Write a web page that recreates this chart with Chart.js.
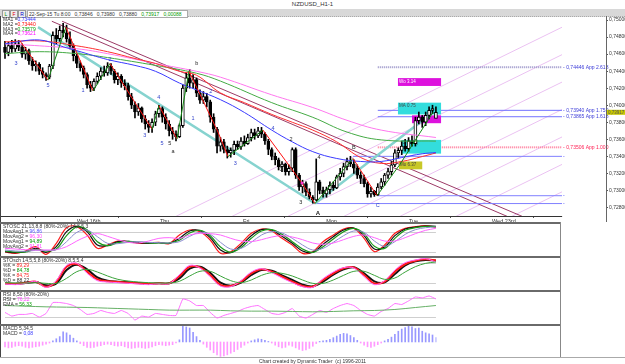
<!doctype html>
<html lang="en">
<head>
<meta charset="utf-8">
<title>NZDUSD_H1-1</title>
<style>
  * { margin: 0; padding: 0; }
  body { width: 625px; height: 364px; position: relative; overflow: hidden; background: #fff;
         font-family: "Liberation Sans", Arial, sans-serif; color: #333; }
  canvas, .abs { position: absolute; }
  .txt { position: absolute; font-size: 5px; line-height: 5px; white-space: nowrap; color: #333; }
  .line { position: absolute; }
</style>
</head>
<body>
<div class="txt" style="left:0;top:2px;width:625px;text-align:center;font-size:6px;">NZDUSD_H1-1</div>
<div class="line" style="left:0;top:9px;width:625px;height:7px;background:#d8d8d8;border-bottom:1px dotted #aaa;"></div>
<div class="txt" style="left:2px;top:10px;width:6px;height:6px;line-height:6px;text-align:center;background:#eee;border:1px solid #999;color:#080;">L</div>
<div class="txt" style="left:10px;top:10px;width:6px;height:6px;line-height:6px;text-align:center;background:#eee;border:1px solid #999;color:#d00;">F</div>
<div class="txt" style="left:18px;top:10px;width:6px;height:6px;line-height:6px;text-align:center;background:#eee;border:1px solid #999;color:#00c;">R</div>
<div class="txt" style="left:27px;top:10px;width:158px;height:6px;line-height:6px;background:#fff;border:1px solid #aaa;padding-left:1px;">22-Sep-15 Tu 8:00&nbsp;&nbsp; 0,73846&nbsp;&nbsp; 0,73980&nbsp;&nbsp; 0,73880&nbsp;&nbsp; <span style="color:#090">0,73917&nbsp;&nbsp; 0,00088</span></div>

<canvas id="main" width="625" height="207" style="left:0;top:16px;"></canvas>
<canvas id="p1" width="625" height="34" style="left:0;top:223px;"></canvas>
<canvas id="p2" width="625" height="33" style="left:0;top:257px;"></canvas>
<canvas id="p3" width="625" height="33" style="left:0;top:291px;"></canvas>
<canvas id="p4" width="625" height="32" style="left:0;top:325px;"></canvas>

<div class="line" style="left:0;top:16px;width:1px;height:342px;background:#444;"></div>
<div class="line" style="left:606px;top:16px;width:1px;height:206px;background:#666;"></div>
<div class="line" style="left:0;top:222px;width:561px;height:2px;background:#6a6a6a;"></div>
<div class="line" style="left:0;top:256px;width:561px;height:2px;background:#6a6a6a;"></div>
<div class="line" style="left:0;top:290px;width:561px;height:2px;background:#6a6a6a;"></div>
<div class="line" style="left:0;top:324px;width:561px;height:2px;background:#6a6a6a;"></div>
<div class="line" style="left:560px;top:222px;width:1px;height:136px;background:#888;"></div>
<div class="line" style="left:0;top:357px;width:625px;height:1px;background:#aaa;"></div>

<div class="txt" style="left:3px;top:17px;line-height:4.8px;">MA1 =<span style="color:#3333ff">0,73444</span><br>MA2 =<span style="color:#ff0000">0,73440</span><br>MA3 =<span style="color:#009900">0,73579</span><br>MA4 =<span style="color:#ff00ff">0,73621</span></div>
<div class="txt" style="left:3px;top:224px;">STOSC 21,13,8,8 (80%-20%) 14,8,5,3<br>MovAvg1 = <span style="color:#5555ff">96,86</span><br>MovAvg2 = <span style="color:#ff44ff">96,30</span><br>MovAvg1 = <span style="color:#009900">94,89</span><br>MovAvg2 = <span style="color:#ff44ff">91,81</span></div>
<div class="txt" style="left:3px;top:258px;">STOsch 14,5,5,8 (80%-20%) 8,5,5,4<br>%K = <span style="color:#ff2222">89,29</span><br>%D = <span style="color:#009900">84,78</span><br>%K = <span style="color:#ff2222">84,75</span><br>%D = <span style="color:#333">88,22</span></div>
<div class="txt" style="left:3px;top:292px;">RSI 8,50 (80%-20%)<br>RSI = <span style="color:#ff44ff">76,22</span><br>EMA = <span style="color:#009900">56,33</span></div>
<div class="txt" style="left:3px;top:326px;">MACD 5,34,5<br>MACD = <span style="color:#3333ff">0,08</span></div>
<div class="txt" style="left:0;top:359px;width:625px;text-align:center;">Chart created by Dynamic Trader&nbsp; (c) 1996-2011</div>

<script src="https://cdn.jsdelivr.net/npm/chart.js"></script>
<script>
// candles, one per hour
const open = [0.7468,0.7462,0.7470,0.7466,0.7472,0.7468,0.7460,0.7464,0.7452,0.7446,0.7448,0.7440,0.7436,0.7433,0.7446,0.7482,0.7478,0.7488,0.7485,0.7478,
  0.7470,0.7458,0.7449,0.7444,0.7436,0.7424,0.7420,0.7428,0.7434,0.7440,0.7438,0.7446,0.7440,0.7430,0.7434,0.7426,0.7423,0.7410,0.7400,0.7392,
  0.7397,0.7384,0.7378,0.7374,0.7380,0.7390,0.7396,0.7386,0.7378,0.7370,0.7366,0.7363,0.7376,0.7420,0.7432,0.7426,0.7430,0.7414,0.7406,0.7410,
  0.7404,0.7386,0.7372,0.7352,0.7357,0.7348,0.7344,0.7347,0.7354,0.7351,0.7358,0.7355,0.7362,0.7368,0.7364,0.7370,0.7366,0.7358,0.7348,0.7340,
  0.7336,0.7328,0.7331,0.7322,0.7326,0.7348,0.7318,0.7304,0.7308,0.7298,0.7292,0.7289,0.7310,0.7300,0.7296,0.7301,0.7306,0.7303,0.7316,0.7320,
  0.7328,0.7334,0.7331,0.7326,0.7318,0.7314,0.7308,0.7296,0.7299,0.7295,0.7304,0.7310,0.7318,0.7322,0.7330,0.7344,0.7347,0.7352,0.7349,0.7358,
  0.7355,0.7382,0.7386,0.7380,0.7388,0.7394,0.73846];
const high = [0.7475,0.7474,0.7476,0.7477,0.7476,0.7472,0.7468,0.7466,0.7456,0.7452,0.7450,0.7444,0.7438,0.7448,0.7486,0.7490,0.7493,0.7496,0.7494,0.7486,
  0.7472,0.7460,0.7452,0.7446,0.7438,0.7428,0.7431,0.7438,0.7444,0.7446,0.7450,0.7449,0.7442,0.7438,0.7436,0.7430,0.7426,0.7414,0.7404,0.7402,
  0.7398,0.7388,0.7382,0.7384,0.7393,0.7400,0.7398,0.7390,0.7382,0.7374,0.7370,0.7378,0.7424,0.7438,0.7442,0.7436,0.7432,0.7418,0.7416,0.7414,
  0.7406,0.7390,0.7374,0.7362,0.7360,0.7352,0.7350,0.7358,0.7358,0.7362,0.7364,0.7366,0.7372,0.7372,0.7374,0.7374,0.7368,0.7360,0.7350,0.7344,
  0.7338,0.7334,0.7332,0.7330,0.7350,0.7350,0.7320,0.7312,0.7310,0.7302,0.7294,0.7337,0.7312,0.7304,0.7304,0.7310,0.7310,0.7318,0.7326,0.7332,
  0.7338,0.7340,0.7336,0.7330,0.7322,0.7318,0.7310,0.7304,0.7300,0.7308,0.7314,0.7320,0.7326,0.7334,0.7348,0.7350,0.7358,0.7360,0.7362,0.7364,
  0.7386,0.7392,0.7388,0.7392,0.7398,0.7400,0.73980];
const low = [0.7455,0.7458,0.7462,0.7463,0.7464,0.7456,0.7454,0.7448,0.7441,0.7440,0.7436,0.7432,0.7429,0.7431,0.7443,0.7472,0.7475,0.7480,0.7474,0.7466,
  0.7452,0.7444,0.7440,0.7432,0.7420,0.7416,0.7417,0.7425,0.7430,0.7434,0.7435,0.7436,0.7426,0.7424,0.7421,0.7418,0.7406,0.7396,0.7385,0.7388,
  0.7380,0.7372,0.7368,0.7368,0.7376,0.7386,0.7380,0.7372,0.7364,0.7360,0.7358,0.7362,0.7374,0.7416,0.7420,0.7420,0.7410,0.7402,0.7402,0.7398,
  0.7380,0.7368,0.7344,0.7346,0.7344,0.7338,0.7339,0.7342,0.7348,0.7348,0.7352,0.7354,0.7358,0.7360,0.7362,0.7362,0.7354,0.7342,0.7336,0.7330,
  0.7324,0.7322,0.7318,0.7318,0.7322,0.7314,0.7300,0.7297,0.7294,0.7290,0.7285,0.7288,0.7296,0.7292,0.7292,0.7296,0.7300,0.7302,0.7312,0.7316,
  0.7324,0.7328,0.7320,0.7314,0.7308,0.7304,0.7292,0.7292,0.7293,0.7294,0.7302,0.7306,0.7314,0.7318,0.7328,0.7338,0.7342,0.7346,0.7346,0.7352,
  0.7352,0.7378,0.7374,0.7376,0.7384,0.7390,0.73880];
const close = [0.7462,0.7470,0.7466,0.7472,0.7468,0.7460,0.7464,0.7452,0.7446,0.7448,0.7440,0.7436,0.7433,0.7446,0.7482,0.7478,0.7488,0.7485,0.7478,0.7470,
  0.7458,0.7449,0.7444,0.7436,0.7424,0.7420,0.7428,0.7434,0.7440,0.7438,0.7446,0.7440,0.7430,0.7434,0.7426,0.7423,0.7410,0.7400,0.7392,0.7397,
  0.7384,0.7378,0.7374,0.7380,0.7390,0.7396,0.7386,0.7378,0.7370,0.7366,0.7363,0.7376,0.7420,0.7432,0.7426,0.7430,0.7414,0.7406,0.7410,0.7404,
  0.7386,0.7372,0.7352,0.7357,0.7348,0.7344,0.7347,0.7354,0.7351,0.7358,0.7355,0.7362,0.7368,0.7364,0.7370,0.7366,0.7358,0.7348,0.7340,0.7336,
  0.7328,0.7331,0.7322,0.7326,0.7348,0.7318,0.7304,0.7308,0.7298,0.7292,0.7289,0.7310,0.7300,0.7296,0.7301,0.7306,0.7303,0.7316,0.7320,0.7328,
  0.7334,0.7331,0.7326,0.7318,0.7314,0.7308,0.7296,0.7299,0.7295,0.7304,0.7310,0.7318,0.7322,0.7330,0.7344,0.7347,0.7352,0.7349,0.7358,0.7355,
  0.7382,0.7386,0.7380,0.7388,0.7394,0.7396,0.73917];

// moving averages (bar index, price)
const ma1Idx = [0,10,17,21,30,38,44,51,56,63,70,78,84,90,97,104,110,116,122,126];
const ma1 = [0.7472,0.74766,0.74686,0.7464,0.74536,0.74467,0.74398,0.7426,0.7418,0.74065,0.73915,0.73708,0.7357,0.73455,0.73375,0.7334,0.7334,0.73386,0.7343,0.73444];
const ma2Idx = [0,10,21,30,38,44,51,56,63,70,78,84,90,97,104,110,116,122,126];
const ma2 = [0.74743,0.74755,0.74697,0.74628,0.74548,0.7449,0.74398,0.74352,0.74145,0.7403,0.73892,0.738,0.73708,0.7357,0.73386,0.73317,0.7334,0.73398,0.7344];
const ma34Idx = [0,10,21,30,44,56,63,78,90,100,110,126];
const ma3 = [0.74605,0.74628,0.74605,0.74559,0.74467,0.74375,0.74283,0.7403,0.73858,0.73685,0.73593,0.73579];
const ma4 = [0.7472,0.74697,0.74663,0.74605,0.7449,0.74398,0.74329,0.74122,0.73973,0.73823,0.73708,0.73621];

// axis ticks
const priceTicks = [0.728,0.730,0.732,0.734,0.736,0.738,0.740,0.742,0.744,0.746,0.748,0.750];
const dayTicks = [21.05,45.3,69.6,93.9,118.1,142.4];
const dayLabels = ['Wed 16th','Thu','Fri','Mon','Tue','Wed 23rd'];

// drawing tools, in (bar index, price)
const gannLines = [[50,0.72696,162.9,0.74916],[66.4,0.72696,162.9,0.74594],[82.7,0.72696,162.9,0.74272],[99.1,0.72696,162.9,0.7395],
  [115.5,0.72696,162.9,0.73628],[131.9,0.72696,162.9,0.73306],[148.2,0.72696,162.9,0.72984]];
const channelLines = [[13.7,0.74985,146.8,0.72696],[16.7,0.74985,151.2,0.72696]];
const tealLines = [[9.65,0.74916,90.64,0.72846],[90.64,0.72846,125.1,0.73915]];
const zigzag = [[4.39,0.74755],[12.57,0.74295],[17.8,0.74916],[25.73,0.74168],[30.7,0.7449],[42.98,0.7372],[45.03,0.73996],[50.29,0.73605],
  [53.8,0.74398],[62.28,0.73685],[65.2,0.73398],[75.44,0.73708],[86.84,0.73087],[90.64,0.72846],[101.75,0.73375],[108.77,0.72938],
  [115.5,0.73306],[125.1,0.73915]];
const appLevels = [0.74446,0.73940,0.73865,0.73506];
const appNames = ['App 2.618','App 1.750','App 1.618','App 1.000'];
const appStart = 109;
const pivotLevels = [0.73400,0.72938,0.72846];
const pivotStart = [101.75,108.77,90.64];
const boxes = [[114.9,127.5,0.74226,0.74318],[114.9,127.5,0.73892,0.7403],[119,127.5,0.73789,0.73881],[116,127.5,0.73432,0.73593],[115.2,122,0.73248,0.7334]];
const boxTexts = ['Wo 3.14','MA 0.75','','1 (1.00)','Mo 6.37'];
const waveText = ['3','5','1','2','3','4','5','5','a','b','1','2','3','4','1','2','3','4','A','B','C'];
const waveX = [3.2,12.6,22.8,30.7,40.9,45,45.9,48.2,49.1,56.1,55,60.2,67.3,78.4,80.7,83.6,86.5,91.8,91.5,102,109];
const waveP = [0.7449,0.74237,0.74168,0.74536,0.7365,0.74088,0.73547,0.73547,0.73455,0.7449,0.73846,0.74157,0.73317,0.73731,0.73248,0.73593,0.72857,0.73386,0.72731,0.73501,0.72823];
const plotEnd = 162.9;

// STOSC panel, every third bar
const oscIdx = [];
for (let i = 0; i <= 126; i += 3) oscIdx.push(i);
const stoscRed = [19,15,22,35,12,45,92,95,70,30,40,52,50,45,46,48,44,70,85,80,55,15,20,45,75,88,82,60,40,15,20,50,70,88,90,60,20,40,75,90,95,98,93];
const stoscBlack = [20,17,20,30,18,35,80,96,80,40,38,50,51,47,45,47,45,60,82,83,62,25,17,38,68,86,85,66,45,22,18,42,65,85,91,68,28,34,68,88,94,97,96];
const stoscGreen = [22,19,19,27,22,28,68,94,86,50,38,47,51,49,46,46,46,54,76,84,68,34,18,32,60,82,86,72,50,28,18,35,58,80,90,74,36,30,60,84,92,96,95];
const stoscBlue = [25,22,21,24,24,26,50,78,85,65,45,44,48,50,48,47,46,50,66,78,72,48,28,30,48,70,80,76,60,40,25,30,48,68,82,78,52,36,50,72,86,92,94];
const stoscPink = [30,28,26,25,25,26,35,52,66,74,66,56,48,46,52,60,62,60,70,75,74,70,60,52,50,56,64,68,64,56,46,42,46,56,66,70,62,52,52,62,74,84,90];
// STOsch panel
const stochRed = [20,18,22,25,10,25,70,78,55,32,26,24,22,20,18,20,20,42,70,68,45,15,12,25,50,62,55,40,25,12,10,30,50,65,68,45,20,25,55,78,88,92,89];
const stochBlack = [20,19,21,24,14,20,60,76,62,38,28,25,23,21,19,20,20,35,64,70,52,22,13,22,45,60,58,44,30,16,11,25,46,62,68,50,26,23,48,74,86,90,88];
const stochGreen = [22,21,21,22,20,20,35,55,62,54,42,32,27,24,22,21,21,26,42,56,56,42,28,22,30,44,52,50,42,30,20,20,30,44,56,56,44,32,36,54,70,80,84];
const stochPink = [18,16,20,26,8,28,74,80,50,28,24,22,20,18,16,19,19,46,74,66,40,12,10,28,54,64,52,36,22,10,8,34,54,67,66,40,16,28,60,82,90,94,84];
// RSI panel
const rsiIdx = [];
for (let i = 0; i <= 126; i += 2) rsiIdx.push(i);
const rsi = [35,24,29,29,32,21,32,65,65,62,56,44,29,32,41,35,32,41,32,12,24,21,32,29,26,26,76,70,56,56,35,18,26,32,38,47,53,56,44,32,
  29,35,47,24,18,29,41,35,47,56,62,56,41,29,24,38,47,62,59,70,82,79,85,76];
const emaIdx = [0,6,12,18,24,30,36,42,48,54,60,66,72,78,84,90,96,102,108,114,120,126];
const rsiEma = [56,54,52,51,50,48,46,44,42,42,42,40,39,39,38,37,38,40,41,44,50,56];
const refLevels = [80,20];
// MACD histogram, one per bar
const macd = [-0.09,-0.11,-0.10,-0.08,-0.07,-0.08,-0.10,-0.11,-0.10,-0.09,-0.08,-0.06,-0.04,-0.02,0.02,0.06,0.10,0.19,0.17,0.13,
  0.07,0.02,-0.03,-0.07,-0.10,-0.11,-0.10,-0.08,-0.07,-0.05,-0.04,-0.05,-0.07,-0.08,-0.07,-0.09,-0.11,-0.12,-0.11,-0.10,
  -0.11,-0.12,-0.11,-0.09,-0.07,-0.05,-0.06,-0.07,-0.06,-0.05,-0.02,0.04,0.30,0.28,0.26,0.18,0.10,0.03,-0.04,-0.10,
  -0.15,-0.20,-0.24,-0.27,-0.26,-0.24,-0.21,-0.18,-0.14,-0.10,-0.06,-0.02,0.02,0.04,0.06,0.05,0.03,0.01,-0.02,-0.06,
  -0.09,-0.11,-0.10,-0.06,-0.08,-0.11,-0.14,-0.16,-0.15,-0.12,-0.08,-0.03,0.01,0.02,0.03,0.05,0.08,0.11,0.14,0.16,
  0.15,0.12,0.08,0.03,-0.02,-0.06,-0.09,-0.10,-0.08,-0.05,-0.02,0.02,0.05,0.09,0.14,0.20,0.24,0.27,0.30,0.28,
  0.25,0.26,0.20,0.17,0.15,0.13,0.08];

const xMin = -1.17, xMax = 175.73;
const small = { size: 5.5, family: 'Liberation Sans' };
const pts = (idx, vals) => idx.map((i, k) => ({ x: i, y: vals[k] }));
const bars = close.map((c, i) => i);

const overlay = {
  id: 'overlay',
  beforeDatasetsDraw(chart) {
    const { ctx, chartArea: a, scales: { x, y } } = chart;
    const X = v => x.getPixelForValue(v), Y = v => y.getPixelForValue(v);
    const right = X(plotEnd);
    const seg = l => { ctx.beginPath(); ctx.moveTo(X(l[0]), Y(l[1])); ctx.lineTo(X(l[2]), Y(l[3])); ctx.stroke(); };
    ctx.save();
    ctx.beginPath(); ctx.rect(a.left, a.top, right - a.left, a.bottom - a.top); ctx.clip();
    ctx.lineWidth = 1;
    ctx.strokeStyle = '#ebc2f2';
    gannLines.forEach(seg);
    ctx.strokeStyle = '#9c3a66';
    channelLines.forEach(seg);
    // horizontal levels
    appLevels.forEach((p, k) => {
      ctx.setLineDash(k === 0 || k === 3 ? [1, 1] : []);
      ctx.lineWidth = k === 0 || k === 3 ? 2 : 1;
      ctx.strokeStyle = k === 0 ? '#9a94c8' : k === 3 ? '#ff7a9a' : '#7272ff';
      ctx.beginPath(); ctx.moveTo(X(appStart), Y(p)); ctx.lineTo(right, Y(p)); ctx.stroke();
    });
    ctx.setLineDash([]); ctx.lineWidth = 1; ctx.strokeStyle = '#8080ff';
    pivotLevels.forEach((p, k) => {
      ctx.beginPath(); ctx.moveTo(X(pivotStart[k]), Y(p)); ctx.lineTo(right, Y(p)); ctx.stroke();
    });
    // boxes
    const fills = ['#dd11dd', '#33dddd', '#dd11dd', '#33dddd', '#c8c828'];
    boxes.forEach((b, k) => {
      ctx.fillStyle = fills[k];
      const x0 = X(b[0]), x1 = X(b[1]), y0 = Y(b[3]), y1 = Y(b[2]);
      ctx.fillRect(x0, y0, x1 - x0, y1 - y0);
      if (boxTexts[k]) {
        ctx.fillStyle = k === 0 ? '#fff' : '#444';
        ctx.font = '4.5px "Liberation Sans"';
        ctx.textBaseline = 'top';
        ctx.fillText(boxTexts[k], x0 + 1, y0 + 1);
      }
    });
    // thick teal fan lines
    ctx.strokeStyle = '#86d3cf'; ctx.lineWidth = 2.5;
    tealLines.forEach(seg);
    ctx.restore();
  },
  afterDatasetsDraw(chart) {
    const { ctx, chartArea: a, scales: { x, y } } = chart;
    const X = v => x.getPixelForValue(v), Y = v => y.getPixelForValue(v);
    const right = X(plotEnd);
    ctx.save();
    ctx.lineWidth = 1;
    for (let k = 1; k < zigzag.length; k++) {
      const p = zigzag[k - 1], q = zigzag[k];
      ctx.strokeStyle = q[1] > p[1] ? '#118811' : '#ff1111';
      ctx.beginPath(); ctx.moveTo(X(p[0]), Y(p[1])); ctx.lineTo(X(q[0]), Y(q[1])); ctx.stroke();
    }
    ctx.fillStyle = '#ff33cc';
    ctx.beginPath(); ctx.arc(X(zigzag[12][0]), Y(zigzag[12][1]), 1.5, 0, Math.PI * 2); ctx.fill();
    // wave labels
    const dark = new Set(['b', 'a', 'A', 'B']);
    ctx.textAlign = 'center'; ctx.textBaseline = 'middle';
    waveText.forEach((t, k) => {
      const isDark = dark.has(t) || k === 7 || k === 14 || k === 15 || k === 16 || k === 17;
      ctx.fillStyle = isDark ? '#222' : '#3344cc';
      ctx.font = (t === 'A' ? 'bold 6px' : '5.5px') + ' "Liberation Sans"';
      ctx.fillText(t, X(waveX[k]), Y(waveP[k]));
    });
    // level labels at the right edge of the plot
    ctx.textAlign = 'left'; ctx.font = '5px "Liberation Sans"';
    appLevels.forEach((p, k) => {
      ctx.fillStyle = k === 3 ? '#ff2255' : '#3b3bd8';
      ctx.fillText('- ' + p.toFixed(5).replace('.', ',') + ' ' + appNames[k], right + 1, Y(p));
    });
    ctx.fillStyle = '#4a4aff';
    pivotLevels.forEach(p => ctx.fillText('-', right + 1, Y(p)));
    // bottom border of the price panel
    ctx.fillStyle = '#333';
    ctx.fillRect(a.left, Math.round(a.bottom), right - a.left, 1);
    // current price marker on the axis
    const cy = Y(close[close.length - 1]);
    ctx.fillStyle = '#c8c800';
    ctx.fillRect(a.right + 1, cy - 2.5, 18, 5);
    ctx.fillStyle = '#555';
    ctx.font = '4.5px "Liberation Sans"';
    ctx.fillText(close[close.length - 1].toFixed(5).replace('.', ','), a.right + 2, cy);
    ctx.restore();
  }
};

new Chart(document.getElementById('main'), {
  type: 'bar',
  data: {
    datasets: [
      { type: 'bar', data: bars.map(i => ({ x: i, y: [low[i], high[i]] })), backgroundColor: '#000', barThickness: 1, grouped: false, order: 3 },
      { type: 'bar', data: bars.map(i => ({ x: i, y: [open[i], close[i]] })),
        backgroundColor: bars.map(i => close[i] >= open[i] ? '#fff' : '#000'),
        borderColor: '#000', borderWidth: 1, borderSkipped: false, barThickness: 3, grouped: false, order: 2 },
      { type: 'line', data: pts(ma1Idx, ma1), borderColor: '#3a3aff', borderWidth: 1, pointRadius: 0, tension: 0.4, order: 1 },
      { type: 'line', data: pts(ma2Idx, ma2), borderColor: '#ff3030', borderWidth: 1, pointRadius: 0, tension: 0.4, order: 1 },
      { type: 'line', data: pts(ma34Idx, ma3), borderColor: '#44aa44', borderWidth: 1, pointRadius: 0, tension: 0.4, order: 1 },
      { type: 'line', data: pts(ma34Idx, ma4), borderColor: '#ff77ee', borderWidth: 1, pointRadius: 0, tension: 0.4, order: 1 }
    ]
  },
  options: {
    responsive: false, animation: false, events: [],
    layout: { padding: { left: 1, top: 2, right: 0, bottom: 0 }, autoPadding: false },
    plugins: { legend: { display: false }, tooltip: { enabled: false } },
    scales: {
      x: {
        type: 'linear', min: xMin, max: xMax, offset: false,
        afterBuildTicks: s => { s.ticks = dayTicks.map(v => ({ value: v })); },
        afterFit: s => { s.height = 7; },
        grid: { drawOnChartArea: false, tickLength: 2, color: '#555' },
        border: { display: false },
        ticks: { autoSkip: false, maxRotation: 0, align: 'start', padding: 0, font: small, color: '#333',
                 callback: (v, i) => dayLabels[i] }
      },
      y: {
        position: 'right', min: 0.727, max: 0.750,
        afterBuildTicks: s => { s.ticks = priceTicks.map(v => ({ value: v })); },
        afterFit: s => { s.width = 19; },
        grid: { drawOnChartArea: false, tickLength: 2, color: '#555' },
        border: { display: false },
        ticks: { padding: 1, font: { size: 5, family: 'Liberation Sans' }, color: '#333',
                 callback: v => v.toFixed(5).replace('.', ',') }
      }
    }
  },
  plugins: [overlay]
});

const refPlugin = {
  id: 'refLines',
  beforeDatasetsDraw(chart, args, opts) {
    if (!opts.levels) return;
    const { ctx, scales: { x, y } } = chart;
    ctx.save();
    ctx.strokeStyle = '#cfcfcf'; ctx.lineWidth = 1;
    opts.levels.forEach(v => {
      const py = Math.round(y.getPixelForValue(v)) + 0.5;
      ctx.beginPath(); ctx.moveTo(x.getPixelForValue(0), py); ctx.lineTo(x.getPixelForValue(126), py); ctx.stroke();
    });
    ctx.restore();
  }
};

function panel(id, type, datasets, yMin, yMax, levels) {
  return new Chart(document.getElementById(id), {
    type,
    data: { datasets },
    options: {
      responsive: false, animation: false, events: [],
      layout: { padding: { left: 1, right: 19, top: 0, bottom: 0 }, autoPadding: false },
      plugins: { legend: { display: false }, tooltip: { enabled: false }, refLines: { levels } },
      scales: {
        x: { type: 'linear', display: false, min: xMin, max: xMax, offset: false },
        y: { display: false, min: yMin, max: yMax }
      }
    },
    plugins: [refPlugin]
  });
}
const ln = (data, color, w) => ({ data, borderColor: color, borderWidth: w, pointRadius: 0, tension: 0.35 });

panel('p1', 'line', [
  ln(pts(oscIdx, stoscPink), '#ff66ff', 1),
  ln(pts(oscIdx, stoscBlue), '#8c8cd0', 1),
  ln(pts(oscIdx, stoscGreen), '#1a9a1a', 1.2),
  ln(pts(oscIdx, stoscBlack), '#111', 1.2),
  ln(pts(oscIdx, stoscRed), '#ff1a1a', 1.2)
], 4, 106, refLevels);

panel('p2', 'line', [
  ln(pts(oscIdx, stochGreen), '#3aa33a', 1),
  ln(pts(oscIdx, stochPink), '#ff66ff', 1),
  ln(pts(oscIdx, stochRed), '#ff1a1a', 2),
  ln(pts(oscIdx, stochBlack), '#111', 2)
], 0, 99, refLevels);

panel('p3', 'line', [
  ln(pts(emaIdx, rsiEma), '#66b066', 1),
  { ...ln(pts(rsiIdx, rsi), '#ff70ff', 1), tension: 0.1 }
], 0, 100, refLevels);

panel('p4', 'bar', [{
  data: bars.map(i => ({ x: i, y: macd[i] })),
  backgroundColor: bars.map(i => i === bars.length - 1 ? '#c8c8ff' : macd[i] >= 0 ? '#9898ff' : '#ff99ff'),
  barThickness: 1
}], -0.28, 0.316, null);
</script>
</body>
</html>
